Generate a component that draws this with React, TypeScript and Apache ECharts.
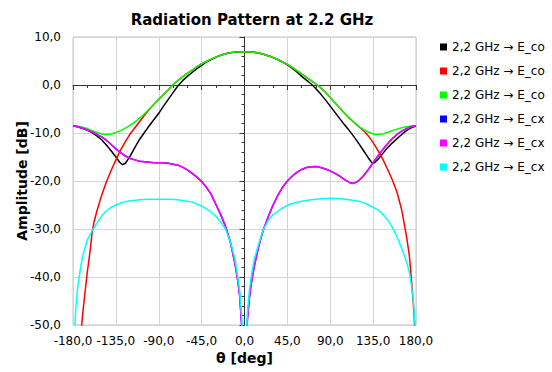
import React, { useEffect, useRef } from "react";
import * as echarts from "echarts";

type Pt = [number, number];

const legendLabels = [
  "2,2 GHz → E_co",
  "2,2 GHz → E_co",
  "2,2 GHz → E_co",
  "2,2 GHz → E_cx",
  "2,2 GHz → E_cx",
  "2,2 GHz → E_cx",
];
const seriesIds = ["co1", "co2", "co3", "cx1", "cx2", "cx3"];
const seriesColors = ["#000000", "#ff0000", "#00ff00", "#0000ff", "#ff00ff", "#00ffff"];

const coBlack: Pt[] = [
  [-180, -8.5], [-175, -8.7], [-170, -9.0], [-165, -9.4], [-160, -9.9], [-155, -10.6], [-150, -11.4],
  [-145, -12.5], [-140, -13.7], [-135, -15.0], [-131, -16.1], [-128, -16.6], [-125, -16.3], [-120, -14.8],
  [-115, -13.0], [-110, -11.3], [-105, -9.9], [-100, -8.5], [-95, -7.2], [-90, -5.9], [-85, -4.4],
  [-80, -3.0], [-75, -1.6], [-70, -0.2], [-65, 0.9], [-60, 1.8], [-55, 2.6], [-50, 3.4], [-45, 4.1],
  [-40, 4.8], [-35, 5.3], [-30, 5.8], [-25, 6.2], [-20, 6.5], [-15, 6.7], [-10, 6.85], [-5, 6.9],
  [0, 6.95], [5, 6.9], [10, 6.8], [15, 6.65], [20, 6.4], [25, 6.1], [30, 5.7], [35, 5.3], [40, 4.8],
  [45, 4.2], [50, 3.5], [55, 2.7], [60, 1.8], [65, 1.0], [70, 0.2], [75, -0.8], [80, -1.9], [85, -3.1],
  [90, -4.4], [95, -5.7], [100, -7.0], [105, -8.3], [110, -9.5], [115, -10.8], [120, -12.2], [125, -13.7],
  [130, -15.2], [133, -16.0], [135, -16.3], [137, -16.1], [140, -15.5], [145, -14.3], [150, -13.1],
  [155, -12.1], [160, -11.2], [165, -10.3], [170, -9.5], [175, -8.9], [180, -8.5],
];

const coRed: Pt[] = [
  [-172, -53], [-170, -48], [-167, -42.5], [-165, -39], [-162, -34.5], [-160, -30.8], [-158, -28.6],
  [-155, -26.3], [-150, -23.0], [-145, -20.2], [-140, -17.8], [-135, -15.6], [-130, -13.5], [-125, -11.8],
  [-120, -10.2], [-115, -8.9], [-110, -7.6], [-105, -6.3], [-100, -5.1], [-95, -4.0], [-90, -3.0],
  [-85, -2.0], [-80, -1.0], [-75, 0.1], [-70, 0.9], [-65, 1.7], [-60, 2.4], [-55, 3.1], [-50, 3.8],
  [-45, 4.4], [-40, 4.9], [-35, 5.4], [-30, 5.8], [-25, 6.2], [-20, 6.5], [-15, 6.7], [-10, 6.85],
  [-5, 6.9], [0, 6.95], [5, 6.9], [10, 6.8], [15, 6.65], [20, 6.4], [25, 6.1], [30, 5.7], [35, 5.3],
  [40, 4.8], [45, 4.3], [50, 3.7], [55, 3.0], [60, 2.3], [65, 1.6], [70, 0.9], [75, 0.2], [80, -0.6],
  [85, -1.5], [90, -2.6], [95, -3.7], [100, -4.8], [105, -5.9], [110, -6.9], [115, -7.8], [120, -8.7],
  [125, -9.5], [130, -10.6], [135, -12.0], [140, -13.6], [145, -15.4], [150, -17.5], [155, -19.7],
  [160, -22.3], [165, -26.0], [170, -31.5], [173, -35.5], [175, -40.0], [177, -45.0], [178, -48.0],
  [180, -56.0],
];

const coGreen: Pt[] = [
  [-180, -8.5], [-175, -8.6], [-170, -8.8], [-165, -9.1], [-160, -9.5], [-155, -9.9], [-150, -10.2],
  [-145, -10.3], [-140, -10.2], [-135, -9.9], [-130, -9.5], [-125, -9.0], [-120, -8.4], [-115, -7.7],
  [-110, -6.9], [-105, -6.0], [-100, -5.0], [-95, -4.0], [-90, -3.0], [-85, -2.0], [-80, -1.0],
  [-75, 0.1], [-70, 0.9], [-65, 1.7], [-60, 2.4], [-55, 3.1], [-50, 3.8], [-45, 4.4], [-40, 4.9],
  [-35, 5.4], [-30, 5.8], [-25, 6.2], [-20, 6.5], [-15, 6.7], [-10, 6.85], [-5, 6.9], [0, 6.95],
  [5, 6.9], [10, 6.8], [15, 6.65], [20, 6.4], [25, 6.1], [30, 5.7], [35, 5.3], [40, 4.8], [45, 4.3],
  [50, 3.7], [55, 3.0], [60, 2.3], [65, 1.6], [70, 0.9], [75, 0.2], [80, -0.6], [85, -1.5], [90, -2.6],
  [95, -3.7], [100, -4.8], [105, -5.9], [110, -6.9], [115, -7.8], [120, -8.6], [125, -9.3], [130, -9.8],
  [135, -10.2], [140, -10.3], [145, -10.2], [150, -9.9], [155, -9.5], [160, -9.2], [165, -8.9],
  [170, -8.7], [175, -8.55], [180, -8.5],
];

const cxMagenta: Pt[] = [
  [-180, -8.5], [-175, -8.7], [-170, -9.0], [-165, -9.4], [-160, -9.8], [-155, -10.3], [-150, -10.8],
  [-145, -11.5], [-140, -12.4], [-135, -13.3], [-130, -14.1], [-125, -14.8], [-120, -15.3], [-115, -15.6],
  [-110, -15.9], [-105, -16.0], [-100, -16.1], [-95, -16.2], [-90, -16.2], [-85, -16.2], [-80, -16.3],
  [-75, -16.5], [-70, -16.7], [-65, -17.1], [-60, -17.7], [-55, -18.4], [-50, -19.2], [-45, -20.1],
  [-40, -21.3], [-35, -22.8], [-30, -24.9], [-25, -27.0], [-20, -29.4], [-15, -32.6], [-10, -37.2],
  [-7, -40.8], [-5, -44.0], [-3, -50.0], [-2, -58], [0, -80], [2, -58], [3, -49], [5, -44.5],
  [7, -41.5], [10, -38.0], [15, -33.5], [20, -30.0], [25, -27.4], [30, -25.0], [35, -23.0], [40, -21.3],
  [45, -20.0], [50, -19.0], [55, -18.2], [60, -17.6], [65, -17.2], [70, -17.05], [75, -17.0],
  [80, -17.2], [85, -17.5], [90, -17.9], [95, -18.4], [100, -19.0], [105, -19.7], [110, -20.3],
  [114, -20.5], [118, -20.2], [120, -19.9], [125, -18.9], [130, -17.6], [135, -16.2], [140, -14.8],
  [145, -13.5], [150, -12.3], [155, -11.2], [160, -10.3], [165, -9.6], [170, -9.1], [175, -8.7],
  [180, -8.5],
];

// hidden beneath the magenta trace in the reference
const cxBlue: Pt[] = cxMagenta;

const cxCyan: Pt[] = [
  [-180, -62], [-178, -50], [-177, -46.5], [-175, -42], [-172, -38], [-170, -35.8], [-165, -32.3],
  [-160, -30.4], [-155, -28.8], [-150, -27.3], [-145, -26.2], [-140, -25.5], [-135, -25.0], [-130, -24.6],
  [-125, -24.3], [-120, -24.1], [-110, -23.9], [-100, -23.8], [-90, -23.8], [-80, -23.8], [-70, -23.9],
  [-60, -24.2], [-55, -24.4], [-50, -24.8], [-45, -25.2], [-40, -25.8], [-35, -26.5], [-30, -27.4],
  [-25, -28.5], [-20, -30.0], [-15, -32.6], [-10, -36.2], [-7, -40], [-5, -43], [-3, -48], [-2, -52],
  [0, -80], [2, -52], [3, -47.5], [5, -43], [7, -40], [10, -36.5], [15, -33.0], [20, -30.0],
  [25, -28.2], [30, -27.0], [35, -26.3], [40, -25.6], [45, -25.1], [50, -24.7], [60, -24.2],
  [70, -23.9], [80, -23.7], [90, -23.6], [100, -23.7], [110, -23.9], [120, -24.2], [125, -24.5],
  [130, -25.0], [135, -25.5], [140, -26.0], [145, -26.9], [150, -28.0], [155, -29.6], [160, -31.6],
  [165, -34.0], [170, -36.8], [173, -39], [175, -41.5], [177, -44.5], [178, -47], [179, -50], [180, -56],
];

const seriesData: Pt[][] = [coBlack, coRed, coGreen, cxBlue, cxMagenta, cxCyan];

const fmt = (v: number) => v.toFixed(1).replace(".", ",");
const FONT = "DejaVu Sans";

export default function App() {
  const ref = useRef<HTMLDivElement>(null);
  useEffect(() => {
    if (!ref.current) return;
    const chart = echarts.init(ref.current, null, { renderer: "svg" });
    const labelMap: Record<string, string> = {};
    seriesIds.forEach((id, i) => (labelMap[id] = legendLabels[i]));
    chart.setOption({
      animation: false,
      backgroundColor: "#ffffff",
      title: {
        text: "Radiation Pattern at 2.2 GHz",
        left: 247,
        top: 7,
        textAlign: "center",
        textStyle: { fontFamily: FONT, fontWeight: "bold", fontSize: 15, color: "#000" },
      },
      legend: {
        orient: "vertical",
        left: 440,
        top: 40,
        padding: 0,
        itemWidth: 7,
        itemHeight: 7,
        itemGap: 10,
        icon: "rect",
        data: seriesIds,
        formatter: (name: string) => labelMap[name] || name,
        textStyle: { fontFamily: FONT, fontSize: 12, color: "#000", lineHeight: 14 },
      },
      grid: {
        left: 73,
        right: 136,
        top: 37,
        bottom: 47,
        show: true,
        borderColor: "#c4c4c4",
        borderWidth: 1,
        backgroundColor: "#ffffff",
      },
      xAxis: {
        type: "value",
        min: -180,
        max: 180,
        interval: 45,
        name: "θ [deg]",
        nameLocation: "middle",
        nameGap: 26,
        nameMoveOverlap: false,
        nameTextStyle: { fontFamily: FONT, fontWeight: "bold", fontSize: 14, color: "#000" },
        axisLine: { show: true, lineStyle: { color: "#333", width: 1 } },
        axisTick: { show: true, length: 5, lineStyle: { color: "#333" } },
        minorTick: { show: true, splitNumber: 3, length: 3, lineStyle: { color: "#333" } },
        axisLabel: { formatter: fmt, fontFamily: FONT, fontSize: 12, color: "#000", margin: 10 },
        splitLine: { show: true, lineStyle: { color: "#d4d4d4", width: 1 } },
      },
      yAxis: {
        type: "value",
        min: -50,
        max: 10,
        interval: 10,
        name: "Amplitude [dB]",
        nameLocation: "middle",
        nameGap: 44,
        nameMoveOverlap: false,
        nameTextStyle: { fontFamily: FONT, fontWeight: "bold", fontSize: 14, color: "#000" },
        axisLine: { show: true, lineStyle: { color: "#333", width: 1 } },
        axisTick: { show: true, length: 5, lineStyle: { color: "#333" } },
        minorTick: { show: true, splitNumber: 5, length: 3, lineStyle: { color: "#333" } },
        axisLabel: { formatter: fmt, fontFamily: FONT, fontSize: 12, color: "#000", margin: 12 },
        splitLine: { show: true, lineStyle: { color: "#d4d4d4", width: 1 } },
      },
      series: seriesIds.map((id, i) => ({
        name: id,
        type: "line",
        data: seriesData[i],
        showSymbol: false,
        symbol: "none",
        clip: true,
        color: seriesColors[i],
        lineStyle: { color: seriesColors[i], width: 1.5 },
      })),
    });
    return () => chart.dispose();
  }, []);
  return <div ref={ref} style={{ width: 552, height: 372, position: "absolute", left: 0, top: 0 }} />;
}
